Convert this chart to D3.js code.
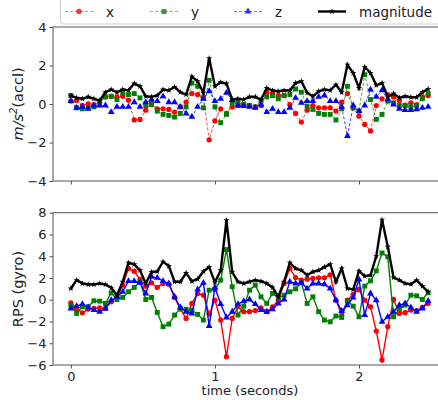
<!DOCTYPE html>
<html>
<head>
<meta charset="utf-8">
<script src="https://cdn.jsdelivr.net/npm/d3@7"></script>
<style>
  body { margin: 0; background: #fff; }
  text { font-family: "DejaVu Sans", sans-serif; fill: #222; }
</style>
</head>
<body>
<script>
const width = 438;
const height = 400;

// samples are taken at 25 Hz
const sampleRate = 25;

const seriesNames = ["x", "y", "z", "magnitude"];

// accelerometer, m/s^2
const accX = [0.15,0.18,-0.08,0.01,-0.03,0.06,0.37,0.40,0.37,0.40,
  0.20,-0.83,-0.80,-0.32,0.06,-0.25,-0.25,-0.28,-0.42,-0.15,
  0.09,0.54,0.49,0.35,-1.86,-0.88,-0.25,-0.49,-0.15,-0.08,
  -0.03,-0.08,-0.15,-0.08,0.61,0.54,0.44,0.44,-0.03,-0.49,
  -0.94,-0.32,-0.08,-0.20,-0.20,-0.20,-0.37,0.09,0.54,-0.20,
  -0.63,-1.06,-1.40,-0.08,0.27,0.49,0.37,0.18,-0.06,0.06,
  -0.03,0.37,0.44];
const accY = [0.44,-0.20,-0.25,-0.20,-0.15,0.15,0.37,0.40,0.23,0.54,
  0.49,0.54,0.32,-0.08,-0.03,-0.37,-0.54,-0.59,-0.68,-0.49,
  -0.15,1.09,0.92,-0.20,1.23,-0.15,-0.97,-0.54,0.06,0.06,
  -0.03,-0.08,-0.15,0.15,0.37,0.44,0.27,0.44,0.49,0.78,
  0.61,-0.11,-0.28,-0.49,-0.54,-0.54,-0.83,-0.25,0.92,-0.20,
  -0.37,1.52,0.23,-0.80,-0.54,0.15,0.06,-0.08,-0.08,-0.15,
  -0.08,0.27,0.54];
const accZ = [0.15,-0.20,-0.15,-0.25,-0.08,-0.08,-0.08,-0.42,-0.15,-0.15,
  -0.15,0.09,-0.15,0.09,0.23,0.15,0.40,0.09,0.09,-0.15,
  -0.49,-0.66,-0.15,0.27,0.66,0.15,0.27,0.58,0.20,-0.08,
  -0.11,-0.15,-0.20,-0.03,-0.42,-0.25,-0.42,-0.42,-0.20,0.32,
  0.06,0.15,0.15,0.37,0.44,0.15,0.15,-0.15,-1.66,-0.08,
  -0.37,-0.08,0.75,0.37,0.71,0.23,-0.03,-0.25,-0.32,-0.32,
  -0.28,-0.20,-0.15];
const accMag = [0.44,0.32,0.27,0.37,0.27,0.18,0.61,0.75,0.61,0.75,
  0.71,1.06,0.92,0.40,0.37,0.44,0.75,0.71,0.88,0.61,
  0.49,1.43,1.18,0.58,2.38,0.92,1.13,1.06,0.23,0.27,
  0.23,0.37,0.37,0.23,0.83,0.70,0.66,0.70,0.70,1.09,
  1.18,0.58,0.40,0.66,0.75,0.71,1.00,0.61,2.04,1.61,
  0.83,1.92,1.61,0.97,1.09,0.37,0.54,0.32,0.40,0.35,
  0.35,0.61,0.78];

// gyroscope, RPS
const gyroX = [-0.28,-0.83,-1.20,-0.86,-0.80,-0.74,-0.80,-0.19,0.27,1.34,
  2.87,2.62,1.86,1.25,1.55,1.13,1.50,1.43,0.21,-0.86,
  -1.72,-0.34,0.57,0.42,-1.32,-0.04,-1.87,-5.24,-1.72,-0.65,
  -1.10,-1.10,-1.00,-0.74,-1.10,-0.65,-0.04,1.50,2.87,2.04,
  1.80,1.89,1.95,2.01,2.01,2.29,-0.04,-1.41,-0.04,0.48,
  0.94,-0.04,-0.65,-2.88,-5.54,-2.48,0.02,-1.26,-1.19,-0.95,
  -1.00,-0.71,-0.34];
const gyroY = [-0.50,-1.26,-0.65,-0.65,-0.10,-0.13,-0.34,0.63,0.02,0.21,
  0.73,1.13,1.65,0.02,0.21,-1.17,-2.48,-2.24,-1.41,-0.80,
  -0.89,-0.95,-1.35,-1.87,0.88,0.94,1.80,4.61,1.19,-1.41,
  -0.59,0.88,1.34,0.27,-0.34,0.58,0.18,0.42,0.73,1.00,
  1.55,-0.34,0.27,-1.10,-1.87,-2.03,-1.50,-1.63,-0.10,-0.59,
  -1.57,1.25,1.74,2.65,4.30,3.94,-1.57,-0.89,-0.50,0.42,
  0.36,0.02,0.64];
const gyroZ = [-0.80,-0.59,-0.40,-0.71,-0.95,-1.10,-0.80,-0.04,0.27,0.73,
  1.71,1.71,1.55,0.58,2.10,2.01,1.71,1.49,0.27,-0.71,
  -1.10,-1.26,0.94,1.55,-2.42,1.13,-0.40,-1.63,-1.10,-0.40,
  -0.13,0.02,-0.40,-0.95,-1.10,-0.89,-0.34,0.02,1.65,1.49,
  1.55,1.03,1.49,1.49,1.43,1.03,-0.04,-1.04,-0.50,0.21,
  1.86,-1.41,0.58,-0.04,-2.03,-1.57,-1.10,-0.50,-0.34,-0.71,
  -1.10,-0.80,-0.10];
const gyroMag = [1.03,1.80,1.50,1.40,1.40,1.50,1.40,1.10,0.42,1.65,
  3.40,3.25,2.70,1.50,2.55,2.60,3.50,3.10,1.65,1.65,
  2.45,1.70,1.90,2.60,3.00,1.60,2.70,7.30,2.55,1.65,
  1.50,1.65,1.80,1.70,1.50,1.13,0.27,1.65,3.40,2.87,
  2.70,2.26,2.56,2.70,3.00,3.27,1.65,2.87,1.03,0.94,
  2.65,2.17,2.26,4.00,7.36,4.86,2.04,1.80,1.50,1.43,
  1.80,1.25,0.73];

const accTicks = [-4, -2, 0, 2, 4];
const gyroTicks = [-6, -4, -2, 0, 2, 4, 6, 8];
const timeTicks = [0, 1, 2];

const colors = ["#ff0000", "#008000", "#0000ff", "#000000"];
const symbols = [d3.symbolCircle, d3.symbolSquare, d3.symbolTriangle, d3.symbolStar];
const symbolSizes = [22, 24, 20, 12];

const svg = d3.select("body")
  .append("svg")
  .attr("width", width)
  .attr("height", height);

const x = d3.scaleLinear()
  .domain([-0.124, 2.604])
  .range([53, 446]);

const yAcc = d3.scaleLinear().domain([-4, 4]).range([181, 27]);
const yGyro = d3.scaleLinear().domain([-6, 8]).range([365, 212.7]);

function drawPanel(yScale, ticks, series, dashed, showXLabels) {
  const g = svg.append("g");
  const [y0, y1] = yScale.range();

  // series
  series.forEach(function (values, k) {
    const pts = values.map(function (v, i) {
      return [i / sampleRate, v];
    });
    const isMag = k === 3;
    const line = d3.line()
      .x(function (d) { return x(d[0]); })
      .y(function (d) { return yScale(d[1]); });

    g.append("path")
      .attr("d", line(pts))
      .attr("fill", "none")
      .attr("stroke", colors[k])
      .attr("stroke-width", isMag ? 2.4 : (dashed ? 1 : 1.4))
      .attr("stroke-dasharray", dashed && !isMag ? "3,2" : null)
      .attr("stroke-opacity", dashed && !isMag ? 0.75 : 1);

    g.selectAll(null)
      .data(pts)
      .enter()
      .append("path")
      .attr("d", d3.symbol().type(symbols[k]).size(symbolSizes[k]))
      .attr("transform", function (d) {
        return "translate(" + x(d[0]) + "," + yScale(d[1]) + ")";
      })
      .attr("fill", colors[k]);
  });

  // frame
  g.append("rect")
    .attr("x", x.range()[0])
    .attr("y", y1)
    .attr("width", x.range()[1] - x.range()[0])
    .attr("height", y0 - y1)
    .attr("fill", "none")
    .attr("stroke", "#555")
    .attr("stroke-width", 1);

  const yAxis = g.append("g")
    .attr("transform", "translate(" + x.range()[0] + ",0)")
    .call(d3.axisLeft(yScale).tickValues(ticks).tickSize(3.5).tickPadding(3));
  yAxis.select(".domain").remove();
  yAxis.selectAll("line").attr("stroke", "#555");
  yAxis.selectAll("text").style("font-size", "13px").attr("fill", "#222");

  const xAxis = g.append("g")
    .attr("transform", "translate(0," + y0 + ")")
    .call(d3.axisBottom(x).tickValues(timeTicks).tickFormat(d3.format("d"))
      .tickSize(3.5).tickPadding(3));
  xAxis.select(".domain").remove();
  xAxis.selectAll("line").attr("stroke", "#555");
  xAxis.selectAll("text")
    .style("font-size", "13px")
    .attr("fill", "#222")
    .style("display", showXLabels ? null : "none");
}

drawPanel(yAcc, accTicks, [accX, accY, accZ, accMag], true, false);
drawPanel(yGyro, gyroTicks, [gyroX, gyroY, gyroZ, gyroMag], false, true);

// y labels
const accLabel = svg.append("text")
  .attr("transform", "translate(23,104) rotate(-90)")
  .attr("text-anchor", "middle")
  .style("font-size", "14.5px");
accLabel.append("tspan").style("font-style", "italic").text("m/s");
accLabel.append("tspan").attr("dy", -6).style("font-size", "10px").style("font-style", "italic").text("2");
accLabel.append("tspan").attr("dy", 6).text("(accl)");

svg.append("text")
  .attr("transform", "translate(23,289) rotate(-90)")
  .attr("text-anchor", "middle")
  .style("font-size", "14.5px")
  .text("RPS (gyro)");

svg.append("text")
  .attr("x", 250)
  .attr("y", 395)
  .attr("text-anchor", "middle")
  .style("font-size", "13px")
  .text("time (seconds)");

// legend
const legend = svg.append("g");
legend.append("rect")
  .attr("x", 60.5)
  .attr("y", -4)
  .attr("width", 400)
  .attr("height", 28)
  .attr("rx", 3)
  .attr("fill", "#fff")
  .attr("stroke", "#ccc");

const legendX = [65, 150, 234, 318];
seriesNames.forEach(function (name, k) {
  const isMag = k === 3;
  const lx = legendX[k];
  legend.append("line")
    .attr("x1", lx).attr("x2", lx + 28)
    .attr("y1", 11.5).attr("y2", 11.5)
    .attr("stroke", colors[k])
    .attr("stroke-width", isMag ? 2.4 : 1)
    .attr("stroke-dasharray", isMag ? null : "3,2")
    .attr("stroke-opacity", isMag ? 1 : 0.5);
  legend.append("path")
    .attr("d", d3.symbol().type(symbols[k]).size(symbolSizes[k]))
    .attr("transform", "translate(" + (lx + 14) + ",11.5)")
    .attr("fill", colors[k])
    .attr("fill-opacity", isMag ? 1 : 0.8);
  legend.append("text")
    .attr("x", lx + 41)
    .attr("y", 16.5)
    .style("font-size", "13.5px")
    .text(name);
});
</script>
</body>
</html>
